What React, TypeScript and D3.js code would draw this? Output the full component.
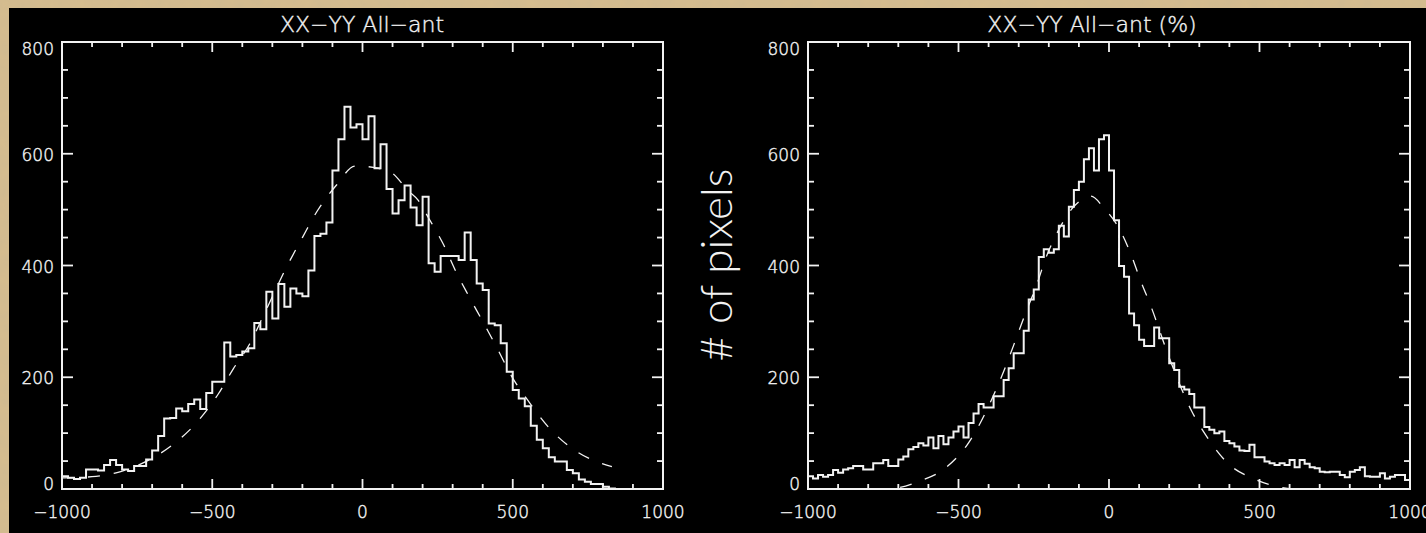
import React from 'react';
import * as d3 from 'd3';

const W = 1426;
const H = 533;

const X_DOMAIN = [-1000, 1000];
const Y_DOMAIN = [0, 800];
const X_MAJOR = [-1000, -500, 0, 500, 1000];
const Y_MAJOR = [0, 200, 400, 600, 800];

const LEFT_TITLE = 'XX−YY All−ant';
const RIGHT_TITLE = 'XX−YY All−ant (%)';
const Y_LABEL = '# of pixels';

// left histogram, 100 bins of 20 across -1000..1000
const LEFT_COUNTS = [
  23, 20, 18, 20, 35, 35, 33, 43, 52, 43,
  35, 32, 41, 41, 53, 69, 95, 126, 127, 144,
  139, 152, 160, 143, 172, 192, 192, 262, 237, 240,
  246, 252, 297, 286, 353, 305, 367, 326, 359, 350,
  345, 391, 453, 457, 477, 570, 626, 684, 647, 653,
  626, 667, 574, 617, 537, 493, 517, 543, 504, 472,
  523, 404, 389, 417, 417, 417, 410, 459, 410, 368,
  356, 296, 293, 261, 210, 177, 162, 148, 113, 88,
  73, 57, 49, 49, 34, 28, 17, 13, 9, 9,
  4, 1, 0, 0, 0, 0, 0, 0, 0, 0,
];

// dashed fit
const LEFT_FIT = [
  [-1000, 20], [-900, 22], [-820, 29], [-700, 55], [-630, 80], [-550, 120],
  [-480, 170], [-430, 215], [-375, 260], [-330, 310], [-250, 400], [-200, 450],
  [-150, 498], [-85, 545], [-25, 578], [15, 577], [60, 573], [100, 565],
  [150, 535], [185, 517], [220, 485], [270, 437], [310, 390], [355, 344],
  [400, 300], [450, 250], [495, 203], [555, 155], [620, 110], [710, 68],
  [800, 45], [830, 40],
];

// right histogram, 120 bins
const RIGHT_COUNTS = [
  23, 19, 25, 22, 25, 34, 29, 35, 37, 41,
  41, 35, 35, 46, 46, 52, 41, 41, 53, 58,
  71, 75, 82, 78, 92, 73, 95, 80, 92, 103,
  112, 92, 118, 135, 152, 146, 146, 166, 166, 195,
  216, 243, 243, 283, 339, 357, 415, 429, 423, 429,
  471, 452, 505, 535, 550, 590, 610, 570, 626, 633,
  570, 481, 399, 380, 314, 293, 267, 256, 256, 289,
  270, 270, 225, 213, 183, 178, 170, 146, 146, 111,
  106, 100, 103, 86, 82, 76, 69, 68, 79, 57,
  57, 49, 46, 43, 46, 43, 52, 39, 52, 45,
  39, 37, 31, 30, 31, 31, 25, 21, 31, 34,
  39, 23, 22, 22, 28, 19, 22, 25, 25, 16,
];

const RIGHT_FIT = [
  [-780, 0], [-720, 1], [-630, 14], [-545, 37], [-470, 80], [-375, 178],
  [-340, 224], [-308, 270], [-275, 318], [-241, 364], [-211, 412], [-180, 450],
  [-116, 506], [-60, 524], [-17, 503], [34, 466], [73, 420], [105, 373],
  [140, 326], [200, 235], [274, 140], [327, 92], [397, 45], [482, 18],
  [571, 3], [620, 0],
];

const FG = '#f2f2f2';
const TICK_FONT = '"DejaVu Sans", sans-serif';

const y = d3.scaleLinear().domain(Y_DOMAIN).range([489, 42]);

function Panel({ left, right, counts, fit, title, titleX }) {
  const x = d3.scaleLinear().domain(X_DOMAIN).range([left, right]);
  const top = y(Y_DOMAIN[1]);
  const bottom = y(0);
  const n = counts.length;
  const step = (X_DOMAIN[1] - X_DOMAIN[0]) / n;
  const pts = counts.map((c, i) => [X_DOMAIN[0] + i * step, c]);
  pts.push([X_DOMAIN[1], counts[n - 1]]);

  const hist = d3.line().x(d => x(d[0])).y(d => y(d[1])).curve(d3.curveStepAfter)(pts);
  const fitPath = d3.line().x(d => x(d[0])).y(d => y(d[1])).curve(d3.curveMonotoneX)(fit);

  const xMinor = d3.range(X_DOMAIN[0], X_DOMAIN[1] + 1, 100);
  const yMinor = d3.range(Y_DOMAIN[0], Y_DOMAIN[1] + 1, 50);
  const clipId = 'clip' + left;

  return (
    <g>
      <defs>
        <clipPath id={clipId}>
          <rect x={left} y={top - 2} width={right - left} height={bottom - top + 3} />
        </clipPath>
      </defs>
      <text x={titleX} y={32} textAnchor="middle" fill={FG} stroke={FG} strokeWidth={0.4}
        fontFamily={TICK_FONT} fontWeight={200} fontSize={22}>{title}</text>

      <g clipPath={`url(#${clipId})`}>
        <path d={fitPath} fill="none" stroke={FG} strokeWidth={1.3} strokeDasharray="12,14" />
        <path d={hist} fill="none" stroke={FG} strokeWidth={2} />
      </g>

      {/* ticks, inward on all four sides */}
      {xMinor.map(v => {
        const len = X_MAJOR.includes(v) ? 10 : 5;
        return (
          <g key={'x' + v}>
            <line x1={x(v)} x2={x(v)} y1={bottom} y2={bottom - len} stroke={FG} strokeWidth={1.8} />
            <line x1={x(v)} x2={x(v)} y1={top} y2={top + len} stroke={FG} strokeWidth={1.8} />
          </g>
        );
      })}
      {yMinor.map(v => {
        const len = Y_MAJOR.includes(v) ? 11 : 6;
        return (
          <g key={'y' + v}>
            <line x1={left} x2={left + len} y1={y(v)} y2={y(v)} stroke={FG} strokeWidth={1.8} />
            <line x1={right} x2={right - len} y1={y(v)} y2={y(v)} stroke={FG} strokeWidth={1.8} />
          </g>
        );
      })}
      <rect x={left} y={top} width={right - left} height={bottom - top} fill="none" stroke={FG} strokeWidth={2} />

      {X_MAJOR.map(v => (
        <text key={'xl' + v} x={x(v)} y={518} textAnchor="middle" fill={FG} stroke={FG}
          strokeWidth={0.4} fontFamily={TICK_FONT} fontWeight={200} fontSize={17}>
          {v < 0 ? '−' + Math.abs(v) : v}
        </text>
      ))}
      {Y_MAJOR.map(v => {
        const base = Math.max(top + 13, Math.min(bottom + 1, y(v) + 7));
        return (
          <text key={'yl' + v} x={left - 8} y={base} textAnchor="end" fill={FG} stroke={FG}
            strokeWidth={0.4} fontFamily={TICK_FONT} fontWeight={200} fontSize={17}>{v}</text>
        );
      })}
    </g>
  );
}

export default function App() {
  return (
    <svg width={W} height={H} style={{ position: 'absolute', left: 0, top: 0, display: 'block' }}>
      <defs>
        <filter id="paper" x="0" y="0" width="100%" height="100%">
          <feTurbulence type="fractalNoise" baseFrequency="0.08" numOctaves="3" seed="4" />
          <feColorMatrix type="matrix"
            values="0 0 0 0 0.55  0 0 0 0 0.45  0 0 0 0 0.3  0 0 0 0.35 0" />
          <feComposite in2="SourceGraphic" operator="in" />
        </filter>
      </defs>
      <rect width={W} height={H} fill="#d6bd8e" />
      <rect width={W} height={H} fill="#d6bd8e" filter="url(#paper)" />
      <rect x={9} y={8} width={W - 9} height={H - 8} fill="#000" />

      <Panel left={62} right={663} counts={LEFT_COUNTS} fit={LEFT_FIT}
        title={LEFT_TITLE} titleX={362} />
      <Panel left={808} right={1410} counts={RIGHT_COUNTS} fit={RIGHT_FIT}
        title={RIGHT_TITLE} titleX={1092} />

      <text transform="translate(732,265) rotate(-90)" textAnchor="middle" fill={FG}
        fontFamily="Lato, 'Open Sans', sans-serif" fontWeight={300} fontSize={44}>
        {Y_LABEL}
      </text>
    </svg>
  );
}
